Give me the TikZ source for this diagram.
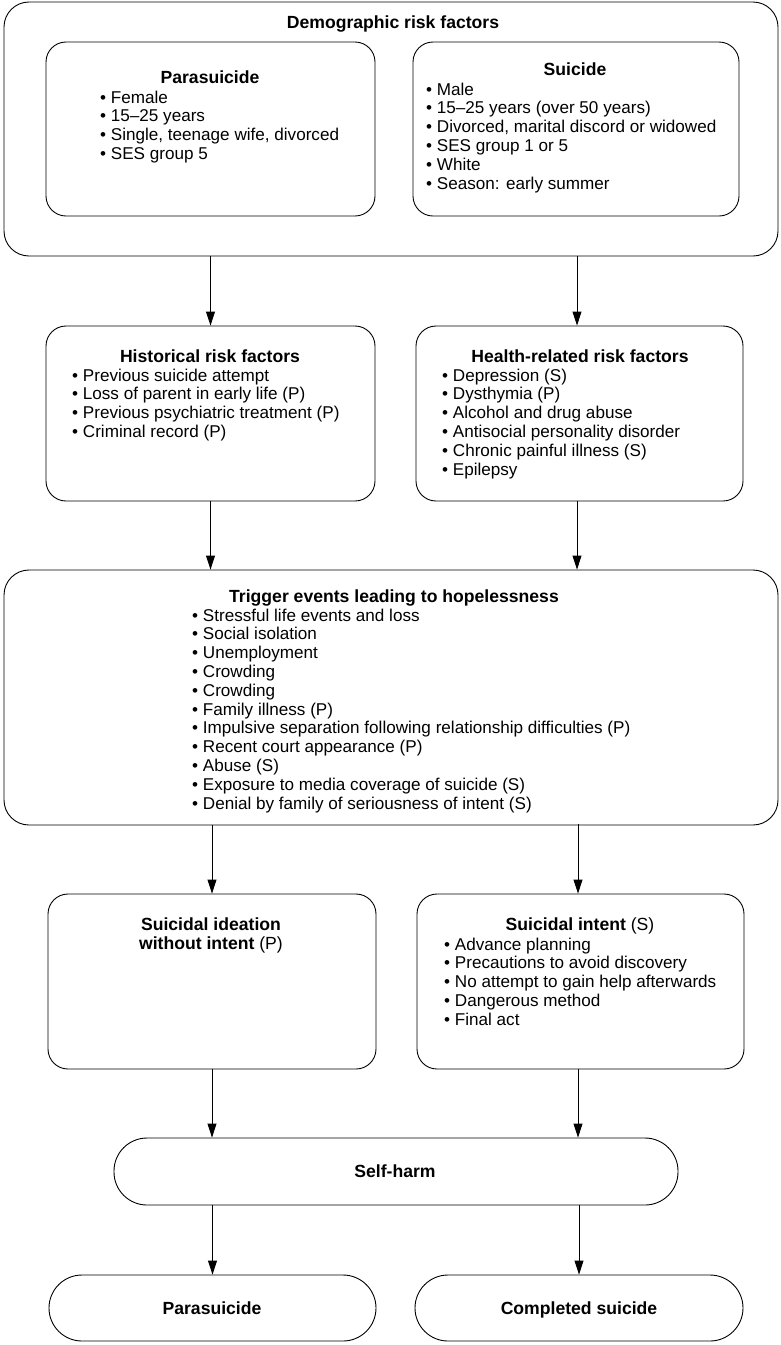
\documentclass[tikz,border=0pt]{standalone}
\usepackage{fontspec}
\setmainfont{Liberation Sans}
\usetikzlibrary{arrows.meta}

\begin{document}
\begin{tikzpicture}[x=1pt,y=-1pt,
  box/.style={draw,line width=0.9pt,rounded corners=20pt,inner sep=0pt},
  pill/.style={draw,line width=0.9pt,rounded corners=33pt,inner sep=0pt},
  ttl/.style={inner sep=0pt,anchor=base,font=\fontsize{17.6}{18.8}\selectfont\bfseries},
  lst/.style={inner sep=0pt,anchor=north west,align=left,font=\fontsize{17.1}{18.8}\selectfont},
  arr/.style={line width=0.9pt,-{Triangle[length=14pt,width=9pt]}}]
\useasboundingbox (0,0) rectangle (780,1345);

% demographic risk factors
\node[box,rounded corners=25pt,minimum width=774pt,minimum height=254pt] (demo) at (391,129) {};
\node[ttl] (demot) at (393,28.7) {Demographic risk factors};
\node[box,minimum width=329pt,minimum height=174pt] (parabox) at (210.5,129) {};
\node[ttl] (parat) at (210,83) {Parasuicide};
\node[lst] (paral) at (100,90.5) {\textbullet\ Female\\ \textbullet\ 15--25 years\\ \textbullet\ Single, teenage wife, divorced\\ \textbullet\ SES group 5};
\node[box,minimum width=326pt,minimum height=174pt] (suibox) at (576,129) {};
\node[ttl] (suit) at (575,75) {Suicide};
\node[lst] (suil) at (426,82.5) {\textbullet\ Male\\ \textbullet\ 15--25 years (over 50 years)\\ \textbullet\ Divorced, marital discord or widowed\\ \textbullet\ SES group 1 or 5\\ \textbullet\ White\\ \textbullet\ Season: early summer};

% historical / health
\node[box,minimum width=329pt,minimum height=175pt] (hist) at (210.5,413.5) {};
\node[ttl] (histt) at (210,362) {Historical risk factors};
\node[lst] (histl) at (72,368.5) {\textbullet\ Previous suicide attempt\\ \textbullet\ Loss of parent in early life (P)\\ \textbullet\ Previous psychiatric treatment (P)\\ \textbullet\ Criminal record (P)};
\node[box,minimum width=327pt,minimum height=175pt] (health) at (579.5,413.5) {};
\node[ttl] (healtht) at (580,362) {Health-related risk factors};
\node[lst] (healthl) at (442,368.5) {\textbullet\ Depression (S)\\ \textbullet\ Dysthymia (P)\\ \textbullet\ Alcohol and drug abuse\\ \textbullet\ Antisocial personality disorder\\ \textbullet\ Chronic painful illness (S)\\ \textbullet\ Epilepsy};

% trigger events
\node[box,rounded corners=25pt,minimum width=774pt,minimum height=255pt] (trig) at (391,697.5) {};
\node[ttl] (trigt) at (394,602) {Trigger events leading to hopelessness};
\node[lst] (trigl) at (192,608.5) {\textbullet\ Stressful life events and loss\\ \textbullet\ Social isolation\\ \textbullet\ Unemployment\\ \textbullet\ Crowding\\ \textbullet\ Crowding\\ \textbullet\ Family illness (P)\\ \textbullet\ Impulsive separation following relationship difficulties (P)\\ \textbullet\ Recent court appearance (P)\\ \textbullet\ Abuse (S)\\ \textbullet\ Exposure to media coverage of suicide (S)\\ \textbullet\ Denial by family of seriousness of intent (S)};

% ideation / intent
\node[box,minimum width=328pt,minimum height=175pt] (idea) at (212,981.5) {};
\node[ttl,anchor=north,align=center] (ideat) at (211,917.5) {Suicidal ideation\\ without intent \mdseries(P)};
\node[box,minimum width=327pt,minimum height=175pt] (intent) at (580.5,981.5) {};
\node[ttl] (intentt) at (580,930) {Suicidal intent \mdseries(S)};
\node[lst] (intentl) at (444,937.5) {\textbullet\ Advance planning\\ \textbullet\ Precautions to avoid discovery\\ \textbullet\ No attempt to gain help afterwards\\ \textbullet\ Dangerous method\\ \textbullet\ Final act};

% outcome
\node[pill,minimum width=564pt,minimum height=67pt] (self) at (396,1171.5) {};
\node[ttl] (selft) at (395,1177) {Self-harm};
\node[pill,minimum width=327pt,minimum height=66pt] (parasui) at (212.5,1308) {};
\node[ttl] (parasuit) at (212,1314) {Parasuicide};
\node[pill,minimum width=328pt,minimum height=66pt] (compl) at (579,1308) {};
\node[ttl] (complt) at (579,1314) {Completed suicide};

% arrows
\draw[arr] (hist.north |- demo.south) -- (hist.north);
\draw[arr] (577,256) coordinate (dr) -- (dr |- health.north);
\draw[arr] (hist.south) -- (hist.south |- trig.north);
\draw[arr] (dr |- health.south) -- (dr |- trig.north);
\draw[arr] (idea.north |- trig.south) -- (idea.north);
\draw[arr] (578,824) coordinate (tr) -- (tr |- intent.north);
\draw[arr] (idea.south) -- (idea.south |- self.north);
\draw[arr] (tr |- intent.south) -- (tr |- self.north);
\draw[arr] (parasui.north |- self.south) -- (parasui.north);
\draw[arr] (compl.north |- self.south) -- (compl.north);
\end{tikzpicture}
\end{document}
